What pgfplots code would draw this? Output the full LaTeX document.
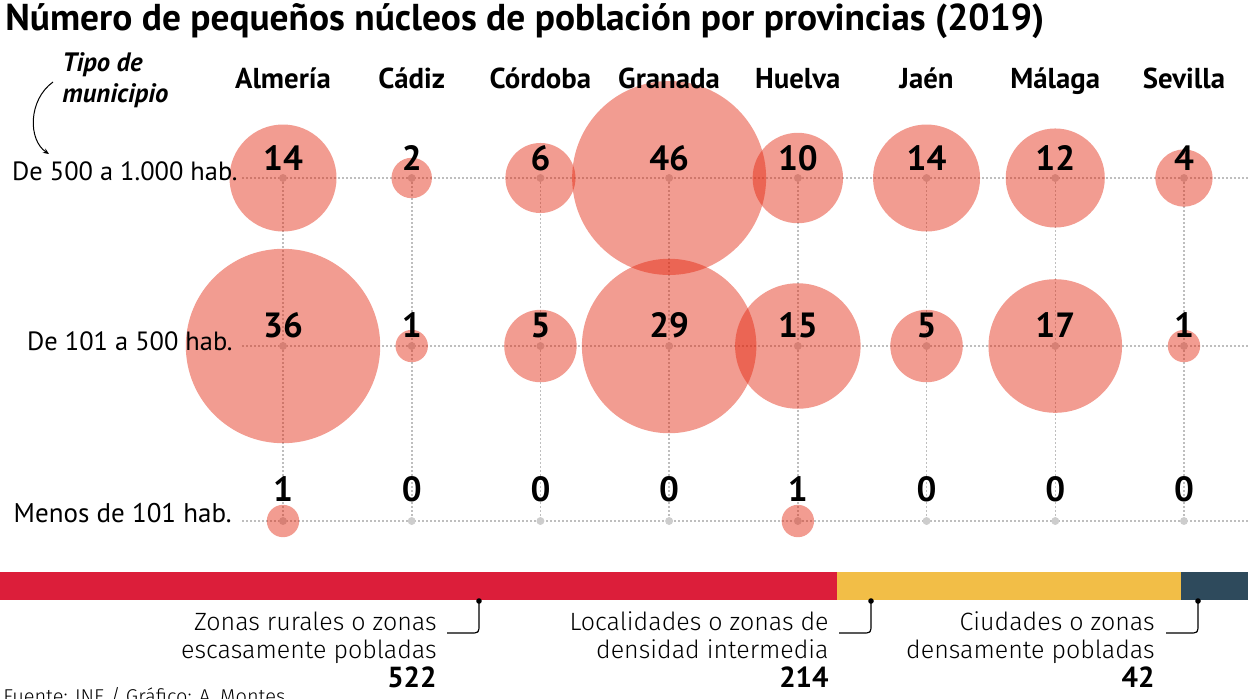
\documentclass[border=0pt]{standalone}
\usepackage{fontspec}
\setmainfont{PT Sans}
\newfontfamily\lightfont{Fira Sans Light}
\usepackage{pgfplots}
\usepackage{pgfplotstable}
\pgfplotsset{compat=1.18}
\usetikzlibrary{arrows.meta}
\definecolor{bub}{RGB}{227,35,10}
\definecolor{barred}{RGB}{220,30,58}
\definecolor{baryel}{RGB}{242,190,71}
\definecolor{bardark}{RGB}{46,74,92}
\definecolor{gridc}{RGB}{190,190,190}
\definecolor{dotc}{RGB}{205,205,205}

% x = province index (Almeria..Sevilla), y = row position (px), v = value
\pgfplotstableread{
x y v
0 178 14
1 178 2
2 178 6
3 178 46
4 178 10
5 178 14
6 178 12
7 178 4
}\rowA
\pgfplotstableread{
x y v
0 346 36
1 346 1
2 346 5
3 346 29
4 346 15
5 346 5
6 346 17
7 346 1
}\rowB
\pgfplotstableread{
x y v
0 521 1
1 521 0
2 521 0
3 521 0
4 521 1
5 521 0
6 521 0
7 521 0
}\rowC

\pgfplotsset{
  bubbles/.style={scatter, only marks, mark=*,
    scatter/use mapped color={draw=bub, draw opacity=0, fill=bub, fill opacity=0.45},
    visualization depends on={#1*sqrt(\thisrow{v}) \as \perpointmarksize},
    scatter/@pre marker code/.append style={/tikz/mark size=\perpointmarksize}},
  gdots/.style={only marks, mark=*, mark size=1.75pt, mark options={draw=dotc, fill=dotc}},
  vlabels/.style={draw=none, mark=none,
    point meta=explicit, nodes near coords={\bfseries\pgfmathprintnumber{\pgfplotspointmeta}},
    every node near coord/.style={anchor=center, yshift=#1, text=black,
      font=\fontsize{17.5}{17.5}\selectfont}},
}

\begin{document}
\begin{tikzpicture}
\useasboundingbox (0,0) rectangle (624pt,349pt);
\clip (0,0) rectangle (624pt,349pt);

% grid (pixel coordinates)
\begin{scope}[x=0.5pt, y=-0.5pt, shift={(0pt,349pt)}]
  \foreach \yy in {178,346,521} {
    \draw[gridc, line width=0.8pt, dash pattern=on 0.9pt off 1.1pt] (242,\yy) -- (1248,\yy);
  }
  \foreach \xx in {283,411.7,540.4,669.1,797.8,926.5,1055.3,1184} {
    \draw[gridc, line width=0.8pt, dash pattern=on 0.9pt off 1.1pt] (\xx,178) -- (\xx,521);
  }
\end{scope}

\begin{axis}[at={(0pt,0pt)}, anchor=south west, scale only axis,
  width=624pt, height=349pt,
  xmin=-2.1988, xmax=7.4975, ymin=0, ymax=698, y dir=reverse,
  hide axis, clip=false, /pgf/number format/assume math mode=true]
  \addplot[gdots] table[x=x,y=y] {\rowA};
  \addplot[gdots] table[x=x,y=y] {\rowB};
  \addplot[gdots] table[x=x,y=y] {\rowC};
  \addplot[bubbles=7.15] table[x=x,y=y] {\rowA};
  \addplot[bubbles=8.1] table[x=x,y=y] {\rowB};
  \addplot[bubbles=8.1] table[x=x,y=y] {\rowC};
  \addplot[vlabels=10pt] table[x=x,y=y,meta=v] {\rowA};
  \addplot[vlabels=10.5pt] table[x=x,y=y,meta=v] {\rowB};
  \addplot[vlabels=16pt] table[x=x,y=y,meta=v] {\rowC};
\end{axis}

\begin{axis}[at={(0pt,49pt)}, anchor=south west, scale only axis,
  width=624pt, height=14pt, xbar stacked, bar width=14pt,
  xmin=0, xmax=778, ymin=-0.5, ymax=0.5, hide axis, clip=false]
  \addplot[fill=barred, draw=none] coordinates {(522,0)};
  \addplot[fill=baryel, draw=none] coordinates {(214,0)};
  \addplot[fill=bardark, draw=none] coordinates {(42,0)};
\end{axis}

\begin{scope}[x=0.5pt, y=-0.5pt, shift={(0pt,349pt)}]
  \node[anchor=base west, inner sep=0pt, font=\bfseries\fontsize{18.7}{20}\selectfont] at (5,31)
    {Número de pequeños núcleos de población por provincias (2019)};
  \foreach \xx/\name in {283/Almería,411.7/Cádiz,540.4/Córdoba,669.1/Granada,797.8/Huelva,926.5/Jaén,1055.3/Málaga,1184/Sevilla} {
    \node[anchor=base, inner sep=0pt, font=\bfseries\fontsize{14.4}{16}\selectfont] at (\xx,88) {\name};
  }
  \node[anchor=base east, inner sep=0pt, font=\fontsize{13.2}{15}\selectfont] at (238,181) {De 500 a 1.000 hab.};
  \node[anchor=base east, inner sep=0pt, font=\fontsize{13.2}{15}\selectfont] at (233,350) {De 101 a 500 hab.};
  \node[anchor=base east, inner sep=0pt, font=\fontsize{13.5}{15}\selectfont] at (232,522) {Menos de 101 hab.};
  \node[anchor=base west, inner sep=0pt, font=\bfseries\itshape\fontsize{13.3}{15}\selectfont] at (62,72) {Tipo de};
  \node[anchor=base west, inner sep=0pt, font=\bfseries\itshape\fontsize{13.3}{15}\selectfont] at (62,102) {municipio};
  \draw[line width=0.5pt, -{Stealth[length=3pt,width=2.5pt]}] (53,82) .. controls (28,100) and (28,140) .. (49,154);

  % annotations
  \foreach \dx/\tx/\la/\lb/\num in {479/437/Zonas rurales o zonas/escasamente pobladas/522,
                                   871/829/Localidades o zonas de/densidad intermedia/214,
                                   1198/1155/Ciudades o zonas/densamente pobladas/42} {
    \fill (\dx,601) circle (2.8);
    \draw[line width=0.6pt] (\dx,601) -- (\dx,624) .. controls (\dx,633) .. (\dx-9,633) -- (\dx-32,633);
    \node[anchor=base east, inner sep=0pt, font=\lightfont\fontsize{12.5}{14}\selectfont] at (\tx,630) {\la};
    \node[anchor=base east, inner sep=0pt, font=\lightfont\fontsize{12.5}{14}\selectfont] at (\tx,658) {\lb};
    \node[anchor=base east, inner sep=0pt, font=\bfseries\fontsize{14.5}{16}\selectfont] at (\tx,687) {\num};
  }
  \node[anchor=base west, inner sep=0pt, font=\lightfont\fontsize{10}{12}\selectfont] at (3,703) {Fuente: INE / Gráfico: A. Montes};
\end{scope}
\end{tikzpicture}
\end{document}
